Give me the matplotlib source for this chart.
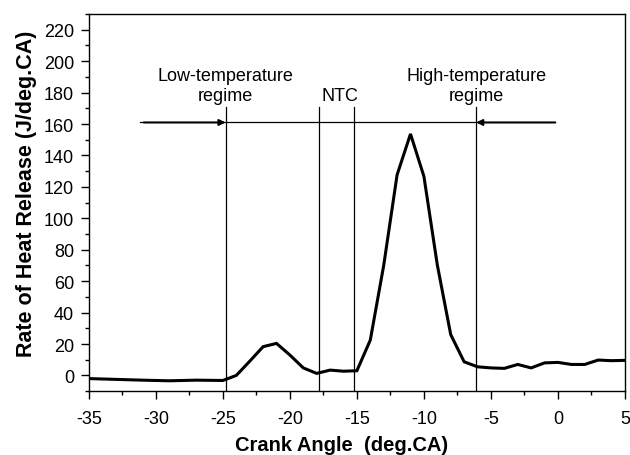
import matplotlib
matplotlib.use("Agg")
import matplotlib.pyplot as plt
from matplotlib.ticker import MultipleLocator

plt.rcParams['font.family'] = ['Liberation Sans', 'DejaVu Sans']
plt.rcParams['axes.unicode_minus'] = False

# heat release curve
crank_angle = [-35, -33, -31, -29, -27, -25, -24, -23, -22, -21, -20, -19, -18, -17,
               -16, -15, -14, -13, -12, -11, -10, -9, -8, -7, -6, -5, -4, -3,
               -2, -1, 0, 1, 2, 3, 4, 5]
heat_release = [-2, -2.5, -3, -3.4, -3, -3.2, 0, 9, 18.3, 20.4, 13, 4.8, 1.3, 3.4,
                2.7, 3.0, 22.5, 70, 127.7, 153.7, 126.7, 70.3, 26, 8.7, 5.5, 4.8, 4.5, 7,
                4.8, 8, 8.3, 7, 7, 9.8, 9.4, 9.6]

# regime boundaries
boundaries = [-24.8, -17.8, -15.2, -6.1]
boundary_top = 171
arrow_y = 161
arrow_left = -31.2
arrow_right = -0.2

fig = plt.figure(figsize=(6.3, 4.56), dpi=100)
ax = fig.add_axes([0.141, 0.140, 0.851, 0.827])

ax.plot(crank_angle, heat_release, color="black", lw=2.2, solid_joinstyle="miter")

for b in boundaries:
    ax.plot([b, b], [-10, boundary_top], color="black", lw=0.9)

ax.plot([arrow_left, arrow_right], [arrow_y, arrow_y], color="black", lw=0.9)
ax.annotate("", xy=(boundaries[0], arrow_y), xytext=(arrow_left + 0.3, arrow_y),
            arrowprops=dict(arrowstyle="-|>", color="black", lw=1.4,
                            mutation_scale=9, shrinkA=0, shrinkB=0))
ax.annotate("", xy=(boundaries[3], arrow_y), xytext=(arrow_right, arrow_y),
            arrowprops=dict(arrowstyle="-|>", color="black", lw=1.4,
                            mutation_scale=9, shrinkA=0, shrinkB=0))

ax.text(boundaries[0], 173, "Low-temperature\nregime", ha="center", va="bottom",
        fontsize=13, linespacing=1.2)
ax.text(-16.3, 173, "NTC", ha="center", va="bottom", fontsize=13)
ax.text(boundaries[3], 173, "High-temperature\nregime", ha="center", va="bottom",
        fontsize=13, linespacing=1.2)

ax.set_xlim(-35, 5)
ax.set_ylim(-10, 230)
ax.xaxis.set_major_locator(MultipleLocator(5))
ax.xaxis.set_minor_locator(MultipleLocator(2.5))
ax.yaxis.set_minor_locator(MultipleLocator(10))
ax.set_yticks(range(0, 221, 20))
ax.tick_params(which="major", direction="out", length=5.5, width=1, labelsize=13)
ax.tick_params(axis="x", which="major", pad=8)
ax.tick_params(axis="y", which="major", pad=5)
ax.tick_params(which="minor", direction="out", length=3, width=1)

for s in ax.spines.values():
    s.set_linewidth(1)

ax.set_xlabel("Crank Angle  (deg.CA)", fontsize=14.5, fontweight="bold",
              labelpad=6, x=0.472)
ax.set_ylabel("Rate of Heat Release (J/deg.CA)", fontsize=15.5, fontweight="bold",
              labelpad=5, y=0.527)

fig.savefig("out.png", dpi=100)
